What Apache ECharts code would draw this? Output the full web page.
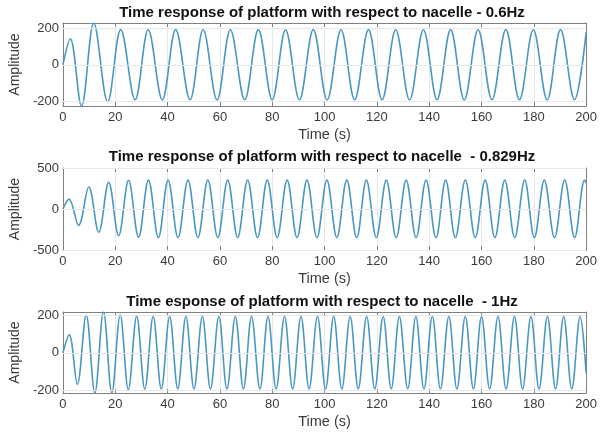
<!DOCTYPE html>
<html><head><meta charset="utf-8">
<script src="https://cdn.jsdelivr.net/npm/echarts@6/dist/echarts.min.js"></script>
<style>html,body{margin:0;padding:0;background:#fff}#c{width:600px;height:435px}</style>
</head><body><div id="c"></div>
<script>
// ---- data ----
const titles = [
  'Time response of platform with respect to nacelle - 0.6Hz',
  'Time response of platform with respect to nacelle  - 0.829Hz',
  'Time esponse of platform with respect to nacelle  - 1Hz'
];
const xTicks = [0, 20, 40, 60, 80, 100, 120, 140, 160, 180, 200];
const yTicks06 = [-200, 0, 200];
const yTicks0829 = [-500, 0, 500];
const yTicks1 = [-200, 0, 200];
const yLim06 = [-224, 227];
const yLim0829 = [-500, 500];
const yLim1 = [-216, 220];

// extrema (time s, amplitude) of each response curve
const resp06 = [[0,0],[2.8,141],[7.1,-224],[11.8,227],[17.1,-201],[22.1,191],[27.6,-190],[32.6,190],[38.0,-191],[43.1,191],[48.6,-190],[53.6,190],[58.9,-191],[64.0,190],[69.5,-190],[74.7,191],[80.0,-191],[85.1,190],[90.4,-190],[95.7,191],[101.0,-191],[106.3,190],[111.5,-190],[116.8,191],[122.0,-190],[127.2,190],[132.5,-191],[137.8,190],[143.0,-190],[148.2,191],[153.4,-191],[158.7,190],[164.0,-190],[169.3,191],[174.5,-190],[179.8,190],[185.1,-191],[190.2,191],[195.5,-190],[200,176]];
const resp0829 = [[0,0],[2.35,120],[6.0,-200],[9.9,268],[13.7,-284],[17.5,325],[21.3,-326],[25.1,350],[28.9,-345],[32.7,352],[36.5,-350],[40.2,352],[44.0,-350],[47.8,352],[51.6,-350],[55.4,352],[59.2,-350],[63.0,352],[66.8,-350],[70.6,352],[74.4,-350],[78.1,352],[81.9,-350],[85.7,352],[89.5,-350],[93.3,352],[97.1,-350],[100.9,352],[104.7,-350],[108.5,352],[112.3,-350],[116.0,352],[119.8,-350],[123.6,352],[127.4,-350],[131.2,352],[135.0,-350],[138.8,352],[142.6,-350],[146.3,352],[150.0,-350],[153.8,352],[157.6,-350],[161.4,352],[165.1,-350],[168.9,352],[172.7,-350],[176.5,352],[180.2,-350],[184.0,352],[187.9,-350],[191.8,352],[195.6,-350],[199.4,352],[200,320]];
const resp1 = [[0,0],[2.4,97],[5.5,-170],[8.9,204],[12.2,-216],[15.5,220],[18.7,-216],[21.9,205],[25.0,-198],[28.2,198],[31.3,-195],[34.5,196],[37.6,-194],[40.8,196],[43.9,-194],[47.0,196],[50.1,-194],[53.3,196],[56.4,-194],[59.6,196],[62.7,-194],[65.9,196],[69.0,-194],[72.1,196],[75.3,-194],[78.4,196],[81.5,-194],[84.7,196],[87.8,-194],[91.0,196],[94.1,-194],[97.3,196],[100.4,-194],[103.5,196],[106.6,-194],[109.8,196],[112.9,-194],[116.1,196],[119.2,-194],[122.4,196],[125.5,-194],[128.6,196],[131.8,-194],[134.9,196],[138.0,-194],[141.2,196],[144.3,-194],[147.5,196],[150.6,-194],[153.8,196],[156.9,-194],[160.0,196],[163.1,-194],[166.3,196],[169.4,-194],[172.6,196],[175.7,-194],[178.9,196],[182.0,-194],[185.2,196],[188.3,-194],[191.4,196],[194.5,-194],[197.7,196],[200,-110]];

// ---- layout / style ----
const panels = [
  {data: resp06, ticks: yTicks06, lim: yLim06, top: 23, height: 83, titleY: 13},
  {data: resp0829, ticks: yTicks0829, lim: yLim0829, top: 168, height: 82, titleY: 157},
  {data: resp1, ticks: yTicks1, lim: yLim1, top: 312, height: 81, titleY: 302}
];
const FONT = '"Liberation Sans", Arial, sans-serif';
const AX = '#808080';
const TXT = '#3a3a3a';
const GRIDC = '#e8e8e8';
const LINEC = '#4a97c4';

const grid = [], xAxis = [], yAxis = [], series = [], graphic = [];
panels.forEach((p, i) => {
  grid.push({left: 57, right: 13, top: p.top, height: p.height, containLabel: false});
  xAxis.push({
    gridIndex: i, type: 'value', min: xTicks[0], max: xTicks[xTicks.length - 1], interval: xTicks[1] - xTicks[0],
    axisLine: {show: true, onZero: false, lineStyle: {color: AX}},
    axisTick: {show: true, inside: true, length: 4, lineStyle: {color: AX}},
    axisLabel: {margin: 5, fontSize: 13, color: TXT, fontFamily: FONT},
    splitLine: {show: true, lineStyle: {color: GRIDC, width: 1}},
    name: 'Time (s)', nameLocation: 'middle', nameGap: 21,
    nameTextStyle: {fontSize: 14.5, color: TXT, fontFamily: FONT}
  });
  xAxis.push({
    gridIndex: i, type: 'value', position: 'top', min: xTicks[0], max: xTicks[xTicks.length - 1], interval: xTicks[1] - xTicks[0],
    axisLine: {show: true, onZero: false, lineStyle: {color: AX}},
    axisTick: {show: true, inside: true, length: 4, lineStyle: {color: AX}},
    axisLabel: {show: false}, splitLine: {show: false}
  });
  yAxis.push({
    gridIndex: i, type: 'value', min: p.lim[0], max: p.lim[1],
    axisLine: {show: true, onZero: false, lineStyle: {color: AX}},
    axisTick: {show: true, inside: true, length: 4, lineStyle: {color: AX}, customValues: p.ticks},
    axisLabel: {margin: 4, fontSize: 13, color: TXT, fontFamily: FONT, customValues: p.ticks},
    splitLine: {show: false},
    name: 'Amplitude', nameLocation: 'middle', nameGap: 33.5,
    nameTextStyle: {fontSize: 14, color: TXT, fontFamily: FONT}
  });
  yAxis.push({
    gridIndex: i, type: 'value', position: 'right', min: p.lim[0], max: p.lim[1],
    axisLine: {show: true, onZero: false, lineStyle: {color: AX}},
    axisTick: {show: true, inside: true, length: 4, lineStyle: {color: AX}, customValues: p.ticks},
    axisLabel: {show: false}, splitLine: {show: false}
  });
  series.push({
    type: 'line', xAxisIndex: 2 * i, yAxisIndex: 2 * i, data: [], z: 1, silent: true,
    markLine: {
      silent: true, symbol: ['none', 'none'], label: {show: false}, animation: false,
      lineStyle: {color: GRIDC, type: 'solid', width: 1},
      data: p.ticks.map(v => ({yAxis: v}))
    }
  });
  series.push({
    type: 'line', xAxisIndex: 2 * i, yAxisIndex: 2 * i, data: p.data, z: 3,
    showSymbol: false, smooth: 0.36, lineStyle: {color: LINEC, width: 1.6}, itemStyle: {color: LINEC}
  });
  graphic.push({
    type: 'text', x: 322, y: p.titleY,
    style: {text: titles[i], align: 'center', verticalAlign: 'middle', fontSize: 15, fontWeight: 'bold', fontFamily: FONT, fill: '#111'}
  });
});

const chart = echarts.init(document.getElementById('c'), null, {renderer: 'canvas'});
chart.setOption({animation: false, backgroundColor: '#fff', grid, xAxis, yAxis, series, graphic});
</script></body></html>
